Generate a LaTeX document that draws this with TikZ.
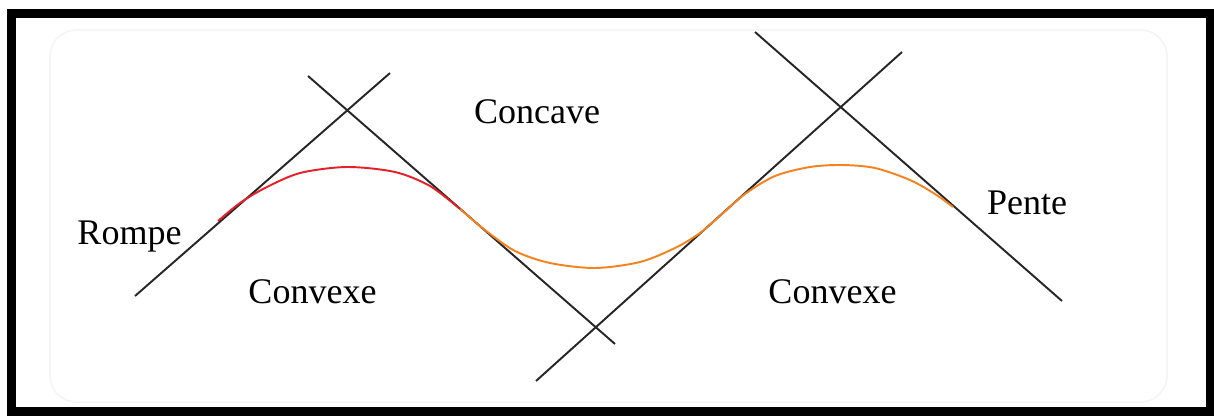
\documentclass[tikz,border=0pt]{standalone}
\usepackage{fontspec}
\setmainfont{Liberation Serif}
\usepackage{tikz}

\definecolor{curvered}{RGB}{232,30,40}
\definecolor{curveorange}{RGB}{245,130,30}
\tikzset{
  tangent/.style={draw=black!85, line width=1.1pt},
  courbe/.style={line width=1.1pt, smooth},
  lbl/.style={anchor=base, inner sep=0pt, font=\fontsize{20.5}{24}\selectfont}
}

\begin{document}
\begin{tikzpicture}[x=0.02cm, y=-0.02cm]
\useasboundingbox (0,0) rectangle (1214,416);
%Frame
\draw [black!4, line width=1pt, rounded corners=15] (50,30) rectangle (1167,402);
\draw [line width=9*0.02cm] (11.5,13.5) rectangle (1210.5,411.5);

%Tangent lines
\draw [tangent] (135,296)--(390,73); \draw [tangent] (308,76)--(615,344);
\draw [tangent] (536,381)--(902,52); \draw [tangent] (755,32)--(1062,301);

%Curve
\draw [courbe, curvered] plot coordinates {(218,221) (240,203) (265,188) (300,173) (347,167) (395,172) (430,186) (460,209)};
\draw [courbe, curveorange] plot coordinates {(460,209) (485,230) (515,251) (550,263) (595,268) (640,262) (675,248) (700,233) (722,214) (745,194) (775,176) (810,167) (842,165) (875,168) (910,180) (935,194) (953,207)};

\node [lbl] (rompe) at (129.5,244){Rompe};
\node [lbl] (convexeL) at (312.5,303){Convexe};
\node [lbl] (concave) at (537,123){Concave};
\node [lbl] (convexeR) at (832.5,303){Convexe};
\node [lbl] (pente) at (1027,214){Pente};

\end{tikzpicture}
\end{document}
